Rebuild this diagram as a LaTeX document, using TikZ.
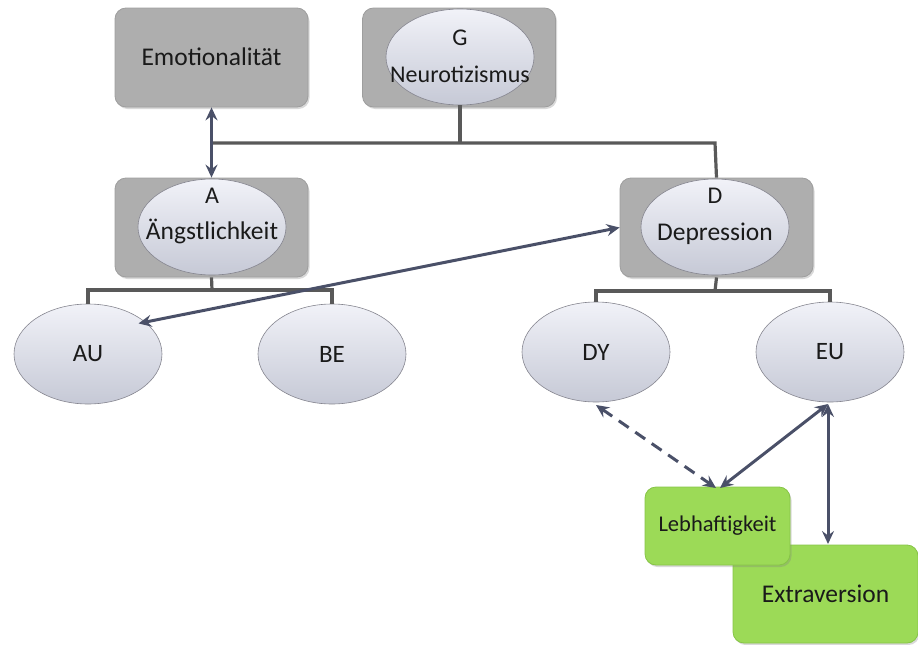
\documentclass[tikz,border=0pt]{standalone}
\usepackage{fontspec}
\setmainfont{Carlito}
\usetikzlibrary{arrows.meta,shapes.geometric,shadows}
\definecolor{boxgray}{HTML}{AEAEAE}
\definecolor{boxedge}{HTML}{9E9E9E}
\definecolor{elltop}{HTML}{F1F2F8}
\definecolor{ellbot}{HTML}{C6C9D6}
\definecolor{elledge}{HTML}{85858F}
\definecolor{linkcol}{HTML}{4A5068}
\definecolor{treecol}{HTML}{595959}
\definecolor{greenfill}{HTML}{9CDA57}
\definecolor{greenedge}{HTML}{86C446}
\definecolor{txt}{HTML}{1A1A1A}
\tikzset{
  graybox/.style={draw=boxedge, line width=0.8pt, rounded corners=11pt,
    fill=boxgray,
    minimum width=193pt, minimum height=99pt, inner sep=0pt,
    drop shadow={shadow xshift=1.5pt, shadow yshift=-2pt, opacity=0.3}},
  factor/.style={ellipse, draw=elledge, line width=0.6pt,
    top color=elltop, bottom color=ellbot,
    minimum width=148pt, minimum height=96pt, inner sep=0pt},
  facet/.style={ellipse, draw=elledge, line width=0.6pt,
    top color=elltop, bottom color=ellbot,
    minimum width=148pt, minimum height=100pt, inner sep=0pt,
    text=txt, font=\fontsize{25}{28}\selectfont},
  greenbox/.style={draw=greenedge, line width=0.8pt, rounded corners=11pt,
    fill=greenfill, text=txt, inner sep=0pt,
    drop shadow={shadow xshift=1.5pt, shadow yshift=-2pt, opacity=0.3}},
  lbl/.style={inner sep=0pt, text=txt, font=\fontsize{24}{28}\selectfont},
  biglbl/.style={inner sep=0pt, text=txt, font=\fontsize{25.5}{29}\selectfont},
  tree/.style={draw=treecol, line width=3.2pt},
  link/.style={draw=linkcol, line width=3pt,
    {Stealth[length=13pt,width=12pt,inset=4.5pt]}-{Stealth[length=13pt,width=12pt,inset=4.5pt]}},
}
\begin{document}
\begin{tikzpicture}[x=1pt, y=-1pt]
\useasboundingbox (0,0) rectangle (918,645);

% top level
\node[graybox] (emo) at (211.5,57.5) {};
\node[biglbl] (emolab) at (211.5,57) {Emotionalität};
\node[graybox] (gbox) at (459,57.5) {};
\node[factor] (g) at (460,57) {};
\node[lbl] (glab) at (460,38) {G};
\node[lbl] (glab2) at (460,74) {Neurotizismus};

% second level
\node[graybox] (abox) at (211.5,227.5) {};
\node[factor] (a) at (212,227) {};
\node[lbl] (alab) at (212,196) {A};
\node[biglbl] (alab2) at (212,231) {Ängstlichkeit};
\node[graybox] (dbox) at (716.5,227.5) {};
\node[factor] (d) at (715,227) {};
\node[lbl] (dlab) at (715,196) {D};
\node[biglbl] (dlab2) at (715,234) {Depression};

% facets
\node[facet] (au) at (88,354) {AU};
\node[facet] (be) at (332,354) {BE};
\node[facet] (dy) at (596,352) {DY};
\node[facet] (eu) at (830,352) {EU};

% external scales
\node[greenbox, minimum width=185pt, minimum height=98pt,
      font=\fontsize{25.5}{29}\selectfont] (extra) at (825.5,594) {Extraversion};
\node[greenbox, minimum width=145pt, minimum height=78pt,
      font=\fontsize{22.5}{26}\selectfont] (lebh) at (717.5,526) {Lebhaftigkeit};

% hierarchy connectors
\coordinate (topbar) at (460,143);
\draw[tree] (g.south) -- (topbar);
\draw[tree] (212,143) -- (715,143) -- (dbox.north);
\draw[tree] (abox.south) -- (212,290);
\draw[tree] (au.north) -- (88,290) -- (332,290) -- (be.north);
\draw[tree] (dbox.south) -- (715,291);
\draw[tree] (dy.north) -- (596,291) -- (830,291) -- (eu.north);

% correlations
\draw[link] (emo.south) -- (abox.north);
\draw[link] (au.north east) ++(-2,5) coordinate (auend) (auend) -- (dbox.west);
\draw[link, dashed, dash pattern=on 12pt off 8pt] (596,405) coordinate (dyend) (dyend) -- (716,488) coordinate (lebend1);
\draw[link] (828,404) coordinate (euend) (euend) -- (720,488) coordinate (lebend2);
\draw[link] (euend) -- (828,544) coordinate (extend);
\end{tikzpicture}
\end{document}
